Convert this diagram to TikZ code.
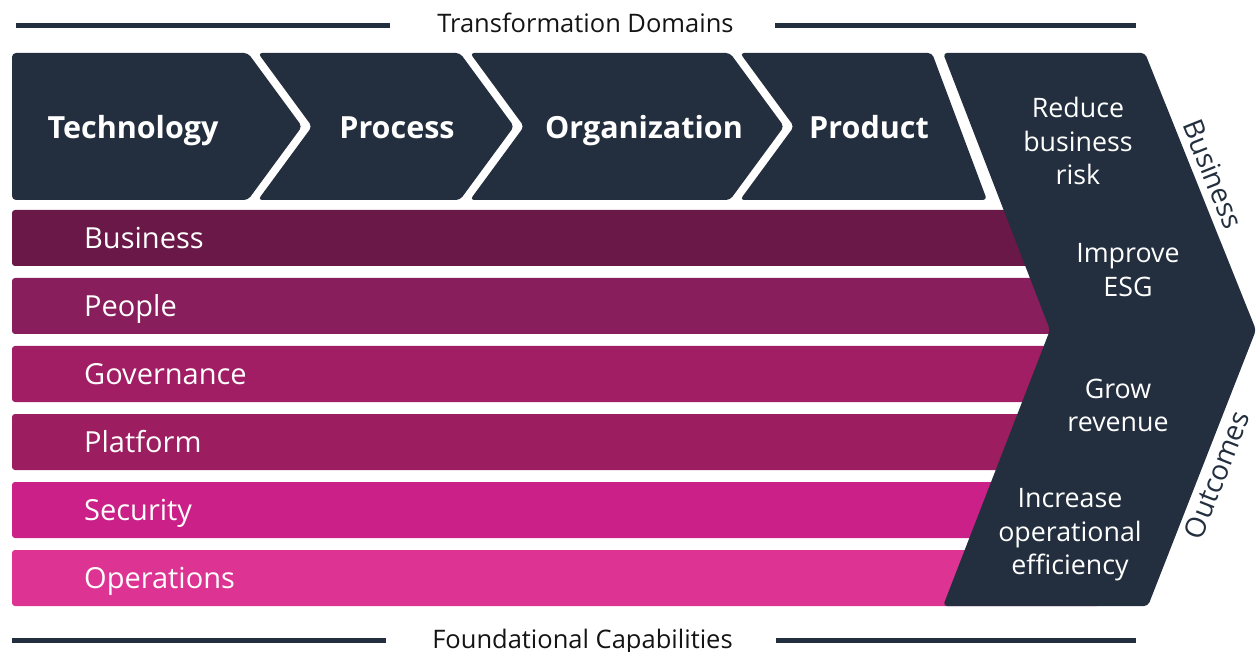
\documentclass[tikz,border=0pt]{standalone}
\usepackage{fontspec}
\setmainfont{Open Sans}
\definecolor{navy}{HTML}{232F3E}
\definecolor{cBusiness}{HTML}{691847}
\definecolor{cPeople}{HTML}{881F5C}
\definecolor{cGovernance}{HTML}{A21E64}
\definecolor{cPlatform}{HTML}{9D1E60}
\definecolor{cSecurity}{HTML}{CA2088}
\definecolor{cOperations}{HTML}{DD3494}
\tikzset{
  domshape/.style={fill=navy, rounded corners=4pt},
  domaintext/.style={text=white, font=\bfseries\fontsize{30.5}{36}\selectfont, inner sep=0pt, anchor=base},
  barfill/.style={rounded corners=3pt},
  bartext/.style={text=white, font=\fontsize{29}{34}\selectfont, anchor=base west, inner sep=0pt},
  outtext/.style={text=white, font=\fontsize{26.8}{33.5}\selectfont, align=center, inner sep=0pt},
  sidetext/.style={text=navy, font=\fontsize{28}{33}\selectfont, inner sep=0pt},
  headtext/.style={text=black!92, font=\fontsize{25.5}{30}\selectfont, inner sep=0pt, anchor=base},
  hrule/.style={draw=navy, line width=4.5pt}
}
\begin{document}
\begin{tikzpicture}[x=1pt,y=-1pt]
\useasboundingbox (0,0) rectangle (1256,652);

% header / footer
\node[headtext] (top) at (585.5,33) {Transformation Domains};
\coordinate (tl1) at (16,25.5); \coordinate (tl2) at (390,25.5);
\coordinate (tr1) at (775,25.5); \coordinate (tr2) at (1136,25.5);
\draw[hrule] (tl1) -- (tl2);
\draw[hrule] (tr1) -- (tr2);
\node[headtext] (bottom) at (582.5,648) {Foundational Capabilities};
\coordinate (bl1) at (12,640.5); \coordinate (bl2) at (386,640.5);
\coordinate (br1) at (776,640.5); \coordinate (br2) at (1136,640.5);
\draw[hrule] (bl1) -- (bl2);
\draw[hrule] (br1) -- (br2);

% capability bars
\foreach \n/\c/\y in {Business/cBusiness/210, People/cPeople/278, Governance/cGovernance/346, Platform/cPlatform/414, Security/cSecurity/482, Operations/cOperations/550}{
  \fill[barfill, \c] (12,\y) rectangle (1100,\y+56);
  \node[bartext] (bar\n) at (84,\y+38.5) {\n};
}

% domain chevrons
\fill[domshape] (12,53) -- (248,53) -- (302,126.5) -- (248,200) -- (12,200) -- cycle;
\fill[domshape] (258,53) -- (460,53) -- (514,126.5) -- (460,200) -- (258,200) -- (312,126.5) -- cycle;
\fill[domshape] (470,53) -- (730,53) -- (784,126.5) -- (730,200) -- (470,200) -- (524,126.5) -- cycle;
\fill[domshape] (740,53) -- (932,53) -- (987,200) -- (740,200) -- (794,126.5) -- cycle;
\node[domaintext] (tech) at (133,138.5) {Technology};
\node[domaintext] (proc) at (397,138.5) {Process};
\node[domaintext] (org) at (644,138.5) {Organization};
\node[domaintext] (prod) at (869,138.5) {Product};

% outcomes chevron
\fill[domshape] (943,53) -- (1145,53) -- (1256,330) -- (1148,606) -- (943,606) -- (1050,330) -- cycle;
\node[outtext] (o1) at (1078,141) {Reduce\\business\\risk};
\node[outtext] (o2) at (1128,270) {Improve\\ESG};
\node[outtext] (o3) at (1118,405.5) {Grow\\revenue};
\node[outtext] (o4) at (1070,535) {Increase\\operational\\efficiency};

\node[sidetext, rotate=-68.2] (sb) at (1213,174) {Business};
\node[sidetext, rotate=68.6] (so) at (1216.5,475) {Outcomes};
\end{tikzpicture}
\end{document}
